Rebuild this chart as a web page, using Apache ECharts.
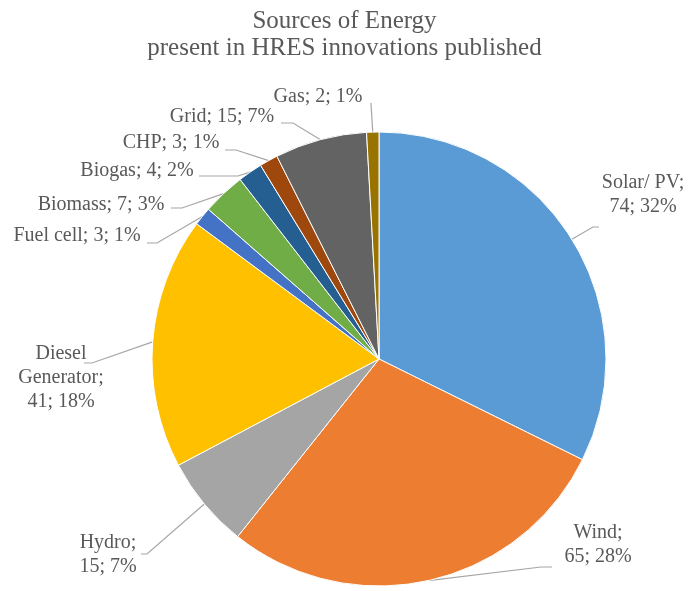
<!DOCTYPE html>
<html>
<head>
<meta charset="utf-8">
<script src="https://cdn.jsdelivr.net/npm/echarts@6/dist/echarts.min.js"></script>
<style>
  html, body { margin: 0; padding: 0; background: #ffffff; }
  #chart { width: 689px; height: 591px; }
</style>
</head>
<body>
<div id="chart"></div>
<script>
// Energy sources and how many published HRES innovations use each
const categories = ['Solar/ PV', 'Wind', 'Hydro', 'Diesel Generator', 'Fuel cell', 'Biomass', 'Biogas', 'CHP', 'Grid', 'Gas'];
const counts = [74, 65, 15, 41, 3, 7, 4, 3, 15, 2];
const sliceColors = ['#5B9BD5', '#ED7D31', '#A5A5A5', '#FFC000', '#4472C4', '#70AD47', '#255E91', '#9E480E', '#636363', '#997300'];

// Where each data label sits (text block centre) and the bend/end of its leader line
const labelSpots = {
  'Solar/ PV':        { at: [643, 195], guide: [[593, 227], [599, 227]] },
  'Wind':             { at: [598, 545], guide: [[541, 567], [552, 567]] },
  'Hydro':            { at: [108, 555], guide: [[147, 554], [141, 554]] },
  'Diesel Generator': { at: [61, 378],  guide: [[92, 363], [84, 363]] },
  'Fuel cell':        { at: [77, 236],  guide: [[157, 243], [147, 243]] },
  'Biomass':          { at: [101, 205], guide: [[182, 208], [171, 208]] },
  'Biogas':           { at: [137, 171], guide: [[238, 176], [199, 176]] },
  'CHP':              { at: [171, 143], guide: [[236, 150], [225, 150]] },
  'Grid':             { at: [222, 117], guide: [[293, 123], [281, 123]] },
  'Gas':              { at: [318, 97],  guide: [[371, 104], [371, 103]] }
};

const wrapAfterName = ['Solar/ PV', 'Wind', 'Hydro'];

function labelText(p) {
  const tail = p.value + '; ' + p.percent + '%';
  if (p.name === 'Diesel Generator') return 'Diesel\nGenerator;\n' + tail;
  if (wrapAfterName.indexOf(p.name) >= 0) return p.name + ';\n' + tail;
  return p.name + '; ' + tail;
}

const chart = echarts.init(document.getElementById('chart'), null, { renderer: 'canvas' });

chart.setOption({
  backgroundColor: '#ffffff',
  animation: false,
  title: {
    text: 'Sources of Energy\npresent in HRES innovations published',
    left: 'center',
    top: 3,
    textStyle: {
      fontFamily: 'Liberation Serif',
      fontSize: 25,
      fontWeight: 'normal',
      color: '#595959',
      lineHeight: 27
    }
  },
  series: [{
    type: 'pie',
    center: [379, 359],
    radius: 227,
    startAngle: 90,
    clockwise: true,
    percentPrecision: 0,
    avoidLabelOverlap: false,
    silent: true,
    itemStyle: { borderColor: '#ffffff', borderWidth: 1 },
    label: {
      show: true,
      position: 'outside',
      formatter: labelText,
      fontFamily: 'Liberation Serif',
      fontSize: 20,
      lineHeight: 24,
      color: '#595959',
      align: 'center'
    },
    labelLine: {
      show: true,
      smooth: false,
      lineStyle: { color: '#A6A6A6', width: 1.2 }
    },
    labelLayout: function (params) {
      const spot = labelSpots[categories[params.dataIndex]];
      const edge = params.labelLinePoints[0];
      return {
        x: spot.at[0],
        y: spot.at[1],
        align: 'center',
        verticalAlign: 'middle',
        labelLinePoints: [edge, spot.guide[0], spot.guide[1]]
      };
    },
    data: categories.map(function (name, i) {
      return { name: name, value: counts[i], itemStyle: { color: sliceColors[i] } };
    })
  }]
});
</script>
</body>
</html>
